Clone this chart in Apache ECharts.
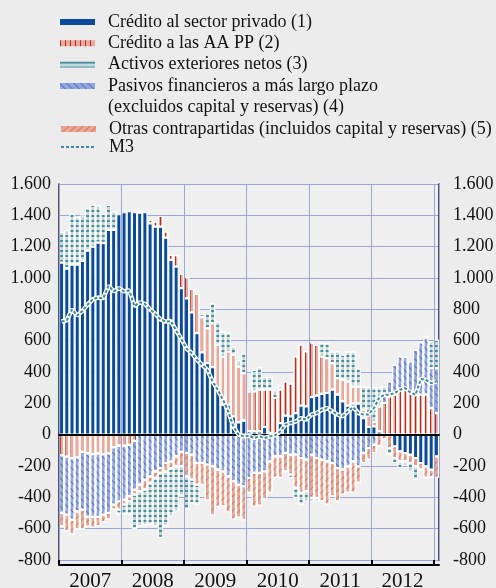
<!DOCTYPE html>
<html>
<head>
<meta charset="utf-8">
<script src="https://cdn.jsdelivr.net/npm/echarts@6/dist/echarts.min.js"></script>
<style>
html,body{margin:0;padding:0;background:#ececec;}
#chart{width:496px;height:588px;}
</style>
</head>
<body>
<div id="chart"></div>
<script>
// Tick labels for the years (bottom axis)
const yearLabels = ['2007', '2008', '2009', '2010', '2011', '2012'];
// Monthly categories: Jan 2007 .. Jan 2013
const categories = [];
for (const y of [2007, 2008, 2009, 2010, 2011, 2012]) {
  for (let m = 1; m <= 12; m++) categories.push(y + '-' + (m < 10 ? '0' + m : m));
}
categories.push('2013-01');

// (1) Crédito al sector privado
const creditoPrivado = [
  1098, 1060, 1086, 1086, 1109, 1175, 1200, 1226, 1222, 1307, 1307, 1407,
  1420, 1426, 1420, 1417, 1420, 1349, 1328, 1328, 1258, 1116, 1073, 935,
  870, 780, 648, 525, 457, 431, 287, 191, 191, 117, 79, 89,
  21, 21, 21, 49, 11, 0, 74, 121, 117, 138, 185, 181,
  240, 249, 261, 266, 287, 255, 213, 185, 198, 198, 106, 49,
  53, 21, 0, 0, -74, -106, -117, -128, -149, -181, -202, -223, -138
];
// (2) Crédito a las AA PP
const creditoAAPP = [
  -130, -140, -150, -145, -110, -120, -125, -120, -125, -120, -80, -70,
  -70, -65, -40, 13, 5, 22, 32, 68, 38, 31, 73, 91,
  135, 150, 250, 225, 223, 281, 287, 308, 340, 393, 357, 304,
  255, 255, 266, 238, 276, 234, 213, 219, 208, 361, 389, 350,
  349, 325, 238, 223, 170, 106, 138, 155, 110, 110, 53, 80,
  30, 160, 202, 244, 255, 287, 297, 276, 255, 255, 255, 170, 138
];
// (3) Activos exteriores netos
const activosExteriores = [
  196, 242, 327, 302, 289, 274, 268, 236, 187, 159, 119, -32,
  -64, -85, -218, -223, -229, -266, -308, -415, -350, -308, -287, -190,
  -212, -150, -127, 20, 96, 127, 149, 159, 121, 53, 36, 128,
  0, 138, 144, 81, 81, 47, 25, 0, -21, -64, -74, -64,
  -21, -21, 90, 95, 74, 170, 159, 191, 223, 117, 149, 176,
  221, 123, 56, -43, -32, -43, -30, -53, -85, 0, 10, 170, 181
];
// (4) Pasivos financieros a más largo plazo
const pasivosLargoPlazo = [
  -369, -370, -392, -344, -368, -405, -400, -405, -385, -379, -366, -355,
  -344, -328, -311, -319, -287, -266, -234, -213, -181, -170, -138, -110,
  -117, -128, -181, -181, -191, -202, -223, -234, -266, -298, -320, -329,
  -276, -244, -244, -234, -170, -138, -138, -117, -128, -128, -149, -159,
  -128, -149, -159, -170, -181, -213, -223, -202, -170, -202, -117, -85,
  -64, 0, 50, 96, 191, 212, 200, 191, 287, 334, 366, 255, 287
];
// (5) Otras contrapartidas
const otrasContrapartidas = [
  -85, -106, -95, -117, -128, -64, -70, -59, -49, -43, -32, -53,
  -32, -32, -32, -42, -64, -42, -42, -31, -53, -43, -64, -90,
  -149, -159, -138, -140, -229, -314, -238, -223, -229, -244, -210, -217,
  -96, -217, -209, -180, -202, -138, -138, -117, -127, -212, -223, -202,
  -276, -255, -266, -276, -212, -212, -160, -170, -202, -106, -64, -74,
  -53, -74, -30, -85, -75, -64, -53, -53, -53, -42, -74, -50, -138
];
// M3
const m3 = [
  722, 730, 800, 760, 790, 830, 865, 875, 870, 950, 915, 935,
  915, 920, 820, 845, 835, 800, 770, 735, 722, 725, 665, 610,
  550, 520, 478, 446, 414, 340, 287, 223, 149, 53, 0, -11,
  -6, -21, -11, -21, -11, -4, 21, 64, 74, 85, 106, 96,
  128, 138, 159, 170, 149, 128, 117, 149, 176, 138, 128, 128,
  170, 234, 255, 255, 266, 287, 297, 270, 255, 355, 350, 329, 340
];

const N1 = 'Crédito al sector privado (1)';
const N2 = 'Crédito a las AA PP (2)';
const N3 = 'Activos exteriores netos (3)';
const N4 = 'Pasivos financieros a más largo plazo';
const N4b = '(excluidos capital y reservas) (4)';
const N5 = 'Otras contrapartidas (incluidos capital y reservas) (5)';
const NM3 = 'M3';

const FONT = '"Liberation Serif", "Times New Roman", serif';
const GRIDC = '#9aa5da';
const M3C = '#3b8a9b';

function fmt(v) {
  const a = Math.abs(v).toString();
  const t = a.length > 3 ? a.slice(0, -3) + '.' + a.slice(-3) : a;
  return (v < 0 ? '-' : '') + t;
}

function barSeries(name, data, color, decal) {
  return {
    name: name, type: 'bar', stack: 'total', data: data,
    xAxisIndex: 0, yAxisIndex: 0,
    barCategoryGap: '0%',
    itemStyle: { color: color, borderColor: '#ffffff', borderWidth: 1.1, decal: decal },
    emphasis: { disabled: true }
  };
}

const chart = echarts.init(document.getElementById('chart'), null, { renderer: 'canvas' });
const legendText = { fontSize: 18, fontFamily: FONT, color: '#111', lineHeight: 18, padding: [0, 0, 0, 8] };

chart.setOption({
  backgroundColor: '#ececec',
  animation: false,
  grid: { left: 59, right: 57, top: 184, bottom: 28, show: true, backgroundColor: '#f0f0f0', borderWidth: 0,
          containLabel: false, outerBoundsMode: 'none' },
  legend: [
    {
      orient: 'vertical', left: 60, top: 13, padding: 0, itemWidth: 35, itemHeight: 6, itemGap: 3.3,
      selectedMode: false, textStyle: legendText, itemStyle: { borderWidth: 0 },
      data: [ { name: N1, icon: 'rect' }, { name: N2, icon: 'rect' }, { name: N3, icon: 'rect' }, { name: N4, icon: 'rect' } ]
    },
    {
      orient: 'vertical', left: 60, top: 120, padding: 0, itemWidth: 35, itemHeight: 6, itemGap: 0,
      selectedMode: false, textStyle: legendText, itemStyle: { borderWidth: 0 },
      data: [ { name: N5, icon: 'rect' }, { name: NM3, itemStyle: { opacity: 0 } } ]
    }
  ],
  graphic: [
    { type: 'text', left: 108, top: 98, silent: true,
      style: { text: N4b, font: '18px ' + FONT, fill: '#111' } }
  ],
  xAxis: [
    {
      type: 'category', data: categories, boundaryGap: true,
      axisLine: { show: true, onZero: true, lineStyle: { color: '#000', width: 2 } },
      axisTick: { show: false }, axisLabel: { show: false },
      splitLine: { show: true, interval: function (i) { return i % 12 === 0; }, lineStyle: { color: GRIDC, width: 1 } },
      z: 4
    },
    {
      type: 'value', position: 'bottom', offset: 5, min: 0, max: 73,
      axisLine: { show: true, onZero: false, lineStyle: { color: '#000', width: 2 } },
      axisTick: { show: true, inside: true, length: 5, customValues: [0, 12, 24, 36, 48, 60, 72], lineStyle: { color: '#000', width: 2 } },
      axisLabel: {
        show: true, customValues: [6, 18, 30, 42, 54, 66], margin: 6,
        fontSize: 21, fontFamily: FONT, color: '#111',
        formatter: function (v) { return yearLabels[Math.round((v - 6) / 12)] || ''; }
      },
      splitLine: { show: false }
    }
  ],
  yAxis: [
    {
      type: 'value', min: -800, max: 1600, interval: 200, position: 'left',
      axisLine: { show: true, lineStyle: { color: '#222', width: 1.5 } },
      axisTick: { show: false },
      axisLabel: { formatter: fmt, fontSize: 18, fontFamily: FONT, color: '#111', margin: 8 },
      splitLine: { show: true, lineStyle: { color: GRIDC, width: 1 } }
    },
    {
      type: 'value', min: -800, max: 1600, interval: 200, position: 'right',
      axisLine: { show: true, lineStyle: { color: '#222', width: 1.5 } },
      axisTick: { show: false },
      axisLabel: { formatter: fmt, fontSize: 18, fontFamily: FONT, color: '#111', margin: 14 },
      splitLine: { show: false }
    }
  ],
  series: [
    barSeries(N1, creditoPrivado, '#0b4a9a', null),
    barSeries(N2, creditoAAPP, '#e9a99b',
      { symbol: 'rect', color: '#b8291e', dashArrayX: [1, 3.5], dashArrayY: [1, 0], rotation: 0 }),
    barSeries(N4, pasivosLargoPlazo, '#92a6df',
      { symbol: 'rect', color: '#5570c4', dashArrayX: [1, 0], dashArrayY: [0.9, 3.2], rotation: Math.PI / 4 }),
    barSeries(N5, otrasContrapartidas, '#e8a792',
      { symbol: 'rect', color: '#d6786a', dashArrayX: [1, 0], dashArrayY: [0.9, 3.2], rotation: -Math.PI / 4 }),
    barSeries(N3, activosExteriores, '#c4d8dc',
      { symbol: 'rect', color: '#4a8f9f', dashArrayX: [1, 0], dashArrayY: [1.2, 2.6], rotation: 0 }),
    {
      name: 'M3 (contorno)', type: 'line', data: m3, symbol: 'none', z: 5, silent: true,
      lineStyle: { color: '#ffffff', width: 4.5 }, emphasis: { disabled: true }
    },
    {
      name: NM3, type: 'line', data: m3, symbol: 'none', z: 6,
      itemStyle: { color: M3C },
      lineStyle: { color: M3C, width: 2, type: [3, 2] }, emphasis: { disabled: true }
    }
  ]
});
</script>
</body>
</html>
